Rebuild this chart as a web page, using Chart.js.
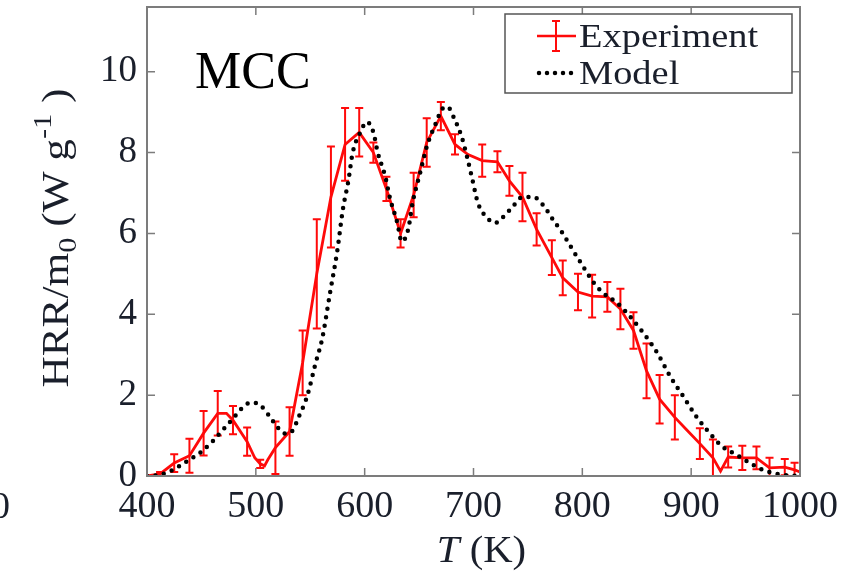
<!DOCTYPE html>
<html>
<head>
<meta charset="utf-8">
<script src="https://cdn.jsdelivr.net/npm/chart.js@4.4.1/dist/chart.umd.min.js"></script>
<style>
  html, body { margin: 0; padding: 0; background: #fff; }
  #wrap { width: 848px; height: 576px; position: relative; }
</style>
</head>
<body>
<div id="wrap"><canvas id="hrr"></canvas></div>
<script>
// measured heat release rate (W/g) vs temperature (K), with error half-widths (0 = no bar)
const expT = [400, 412, 425, 439, 452, 465, 473, 479, 492, 499,
  504, 508, 511, 518, 531, 543, 556, 569, 582, 595,
  608, 620, 633, 645, 657, 670, 683, 695, 708, 722,
  733, 745, 758, 772, 782, 796, 809, 823, 835, 847,
  859, 871, 885, 896, 908, 920, 927, 934, 947, 960,
  972, 986, 995, 1000];
const expHRR = [0, 0.05, 0.32, 0.5, 1.06, 1.55, 1.55, 1.38, 0.85, 0.45,
  0.3, 0.25, 0.4, 0.7, 1.1, 2.8, 5.0, 6.9, 8.2, 8.5,
  8.0, 7.1, 6.0, 6.95, 8.25, 8.9, 8.2, 7.95, 7.8, 7.77,
  7.3, 6.9, 6.1, 5.4, 4.9, 4.55, 4.45, 4.43, 4.13, 3.6,
  2.6, 1.9, 1.45, 1.14, 0.8, 0.45, 0.12, 0.47, 0.45, 0.45,
  0.2, 0.22, 0.15, 0.1];
const expErr = [0, 0.05, 0.22, 0.42, 0.55, 0.55, 0, 0.35, 0.35, 0,
  0.1, 0, 0, 0.65, 0.6, 0.8, 1.35, 1.25, 0.9, 0.6,
  0.25, 0.3, 0.35, 0.55, 0.6, 0.35, 0.25, 0, 0.4, 0.26,
  0.37, 0.6, 0.4, 0.43, 0.43, 0.45, 0.53, 0.37, 0.5, 0.45,
  0.68, 0.6, 0.55, 0, 0.38, 0.45, 0, 0.26, 0.3, 0.28,
  0.25, 0.2, 0.18, 0];

// model curve
const modelT = [400, 410, 420, 430, 440, 450, 460, 470, 480, 488,
  496, 504, 512, 520, 527, 533, 540, 547, 555, 561,
  568, 575, 580, 585, 589, 596, 602, 608, 612, 619,
  623, 630, 634, 640, 644, 651, 657, 665, 672, 676,
  683, 689, 694, 699, 704, 712, 720, 727, 736, 745,
  755, 764, 773, 782, 791, 801, 810, 819, 832, 844,
  856, 869, 881, 893, 905, 917, 929, 942, 954, 966,
  979, 990, 1000];
const modelHRR = [0, 0.02, 0.1, 0.25, 0.42, 0.6, 0.85, 1.15, 1.45, 1.7,
  1.82, 1.75, 1.5, 1.2, 1.05, 1.1, 1.5, 1.96, 2.8, 3.4,
  4.5, 5.6, 6.6, 7.3, 8.0, 8.5, 8.76, 8.5, 8.0, 7.4,
  6.9, 6.26, 5.8, 6.1, 6.75, 7.5, 8.14, 8.7, 9.1, 9.13,
  8.8, 8.4, 7.9, 7.33, 6.76, 6.4, 6.26, 6.4, 6.66, 6.9,
  6.9, 6.7, 6.34, 6.0, 5.6, 5.17, 4.8, 4.53, 4.28, 3.94,
  3.54, 3.04, 2.45, 1.96, 1.46, 1.06, 0.72, 0.52, 0.32, 0.15,
  0.05, 0.01, 0];

const xTicks = [400, 500, 600, 700, 800, 900, 1000];
const yTicks = [0, 2, 4, 6, 8, 10];

const SERIF = "'Liberation Serif', 'DejaVu Serif', serif";
const INK = '#1a1f2b';
const FRAME = '#7c7c7c';
const RED = 'rgb(255, 10, 10)';

// text drawn a little wider than Times, closer to a book face
function wideText(ctx, str, x, y, sx) {
  ctx.save();
  ctx.translate(x, y);
  ctx.scale(sx, 1);
  ctx.fillText(str, 0, 0);
  ctx.restore();
  return ctx.measureText(str).width * sx;
}

// vertical error bars with short caps, under the lines
const errorBars = {
  id: 'errorBars',
  beforeDatasetsDraw(chart) {
    const { ctx, scales: { x, y } } = chart;
    ctx.save();
    ctx.strokeStyle = RED;
    ctx.lineWidth = 2;
    expT.forEach((t, i) => {
      const e = expErr[i];
      if (!e) return;
      const px = x.getPixelForValue(t);
      const top = y.getPixelForValue(expHRR[i] + e);
      const bot = y.getPixelForValue(Math.max(expHRR[i] - e, 0));
      ctx.beginPath();
      ctx.moveTo(px, top); ctx.lineTo(px, bot);
      ctx.moveTo(px - 4, top); ctx.lineTo(px + 4, top);
      ctx.moveTo(px - 4, bot); ctx.lineTo(px + 4, bot);
      ctx.stroke();
    });
    ctx.restore();
  }
};

// box frame with inward ticks, axis titles, panel tag and legend
const decorations = {
  id: 'decorations',
  afterDraw(chart) {
    const { ctx, chartArea: a, scales: { x, y } } = chart;
    ctx.save();
    ctx.strokeStyle = FRAME;
    ctx.lineWidth = 2;
    ctx.strokeRect(a.left, a.top, a.right - a.left, a.bottom - a.top);
    ctx.lineWidth = 1.5;
    ctx.beginPath();
    xTicks.forEach(v => {
      const px = x.getPixelForValue(v);
      ctx.moveTo(px, a.bottom); ctx.lineTo(px, a.bottom - 8);
      ctx.moveTo(px, a.top); ctx.lineTo(px, a.top + 8);
    });
    yTicks.forEach(v => {
      const py = y.getPixelForValue(v);
      ctx.moveTo(a.left, py); ctx.lineTo(a.left + 8, py);
      ctx.moveTo(a.right, py); ctx.lineTo(a.right - 8, py);
    });
    ctx.stroke();

    ctx.fillStyle = INK;
    ctx.textBaseline = 'alphabetic';

    // y title: HRR/m0 (W g-1)
    ctx.save();
    ctx.translate(68, 238);
    ctx.rotate(-Math.PI / 2);
    ctx.scale(1.17, 1);
    const big = '37px ' + SERIF, small = '26px ' + SERIF;
    const parts = [
      ['HRR/m', big, 0], ['0', small, 8], [' (W g', big, 0],
      ['-1', small, -17], [' )', big, 0]
    ];
    let w = 0;
    parts.forEach(p => { ctx.font = p[1]; w += ctx.measureText(p[0]).width; });
    let cx = -w / 2;
    parts.forEach(p => {
      ctx.font = p[1];
      ctx.fillText(p[0], cx, p[2]);
      cx += ctx.measureText(p[0]).width;
    });
    ctx.restore();

    // x title: T (K)
    const sxT = 1.1;
    ctx.font = 'italic 37px ' + SERIF;
    const tW = ctx.measureText('T').width * sxT;
    ctx.font = '37px ' + SERIF;
    const kW = ctx.measureText(' (K)').width * sxT;
    const x0 = (a.left + a.right) / 2 + 8 - (tW + kW) / 2;
    ctx.font = 'italic 37px ' + SERIF;
    wideText(ctx, 'T', x0, 562, sxT);
    ctx.font = '37px ' + SERIF;
    wideText(ctx, ' (K)', x0 + tW, 562, sxT);

    // clipped digit from the neighbouring panel
    ctx.textAlign = 'right';
    ctx.font = '38px ' + SERIF;
    ctx.fillText('0', 10, 518);
    ctx.textAlign = 'left';

    // panel tag
    ctx.fillStyle = '#000';
    ctx.font = '52px ' + SERIF;
    ctx.fillText('MCC', 195, 88);

    // legend
    const lx = 505, ly = 14, lw = 287, lh = 79;
    ctx.fillStyle = '#fff';
    ctx.fillRect(lx, ly, lw, lh);
    ctx.strokeStyle = '#555';
    ctx.lineWidth = 1.5;
    ctx.strokeRect(lx, ly, lw, lh);

    ctx.strokeStyle = RED;
    ctx.lineWidth = 2.5;
    ctx.beginPath();
    ctx.moveTo(537, 36); ctx.lineTo(576, 36);
    ctx.stroke();
    ctx.lineWidth = 2;
    ctx.beginPath();
    ctx.moveTo(556, 21); ctx.lineTo(556, 51);
    ctx.moveTo(552, 21); ctx.lineTo(560, 21);
    ctx.moveTo(552, 51); ctx.lineTo(560, 51);
    ctx.stroke();

    ctx.strokeStyle = '#000';
    ctx.lineWidth = 4.5;
    ctx.lineCap = 'round';
    ctx.setLineDash([0, 8]);
    ctx.beginPath();
    ctx.moveTo(539, 73); ctx.lineTo(574, 73);
    ctx.stroke();
    ctx.setLineDash([]);

    ctx.fillStyle = INK;
    ctx.font = '34px ' + SERIF;
    wideText(ctx, 'Experiment', 579, 47, 1.13);
    wideText(ctx, 'Model', 579, 84, 1.13);
    ctx.restore();
  }
};

new Chart(document.getElementById('hrr'), {
  type: 'line',
  data: {
    datasets: [
      {
        label: 'Model',
        data: modelT.map((t, i) => ({ x: t, y: modelHRR[i] })),
        borderColor: '#000',
        borderWidth: 4.5,
        borderDash: [0, 8.5],
        borderCapStyle: 'round',
        pointRadius: 0,
        cubicInterpolationMode: 'monotone',
        fill: false
      },
      {
        label: 'Experiment',
        data: expT.map((t, i) => ({ x: t, y: expHRR[i] })),
        borderColor: RED,
        borderWidth: 2.8,
        pointRadius: 0,
        tension: 0,
        fill: false
      }
    ]
  },
  options: {
    responsive: true,
    maintainAspectRatio: false,
    animation: false,
    layout: { padding: { top: 7, right: 48, left: 0, bottom: 0 } },
    plugins: { legend: { display: false }, tooltip: { enabled: false } },
    scales: {
      x: {
        type: 'linear',
        min: 400,
        max: 1000,
        afterBuildTicks: s => { s.ticks = xTicks.map(v => ({ value: v })); },
        afterFit: s => { s.height = 100; s.paddingLeft = 0; s.paddingRight = 0; },
        grid: { display: false, drawTicks: false },
        border: { display: false },
        ticks: {
          color: INK, font: { family: SERIF, size: 38 }, padding: 8, maxRotation: 0,
          callback: v => String(v)
        }
      },
      y: {
        type: 'linear',
        min: 0,
        max: 11.6,
        afterBuildTicks: s => { s.ticks = yTicks.map(v => ({ value: v })); },
        afterFit: s => { s.width = 147; s.paddingTop = 0; s.paddingBottom = 0; },
        grid: { display: false, drawTicks: false },
        border: { display: false },
        ticks: { color: INK, font: { family: SERIF, size: 37 }, padding: 10 }
      }
    }
  },
  plugins: [errorBars, decorations]
});
</script>
</body>
</html>
